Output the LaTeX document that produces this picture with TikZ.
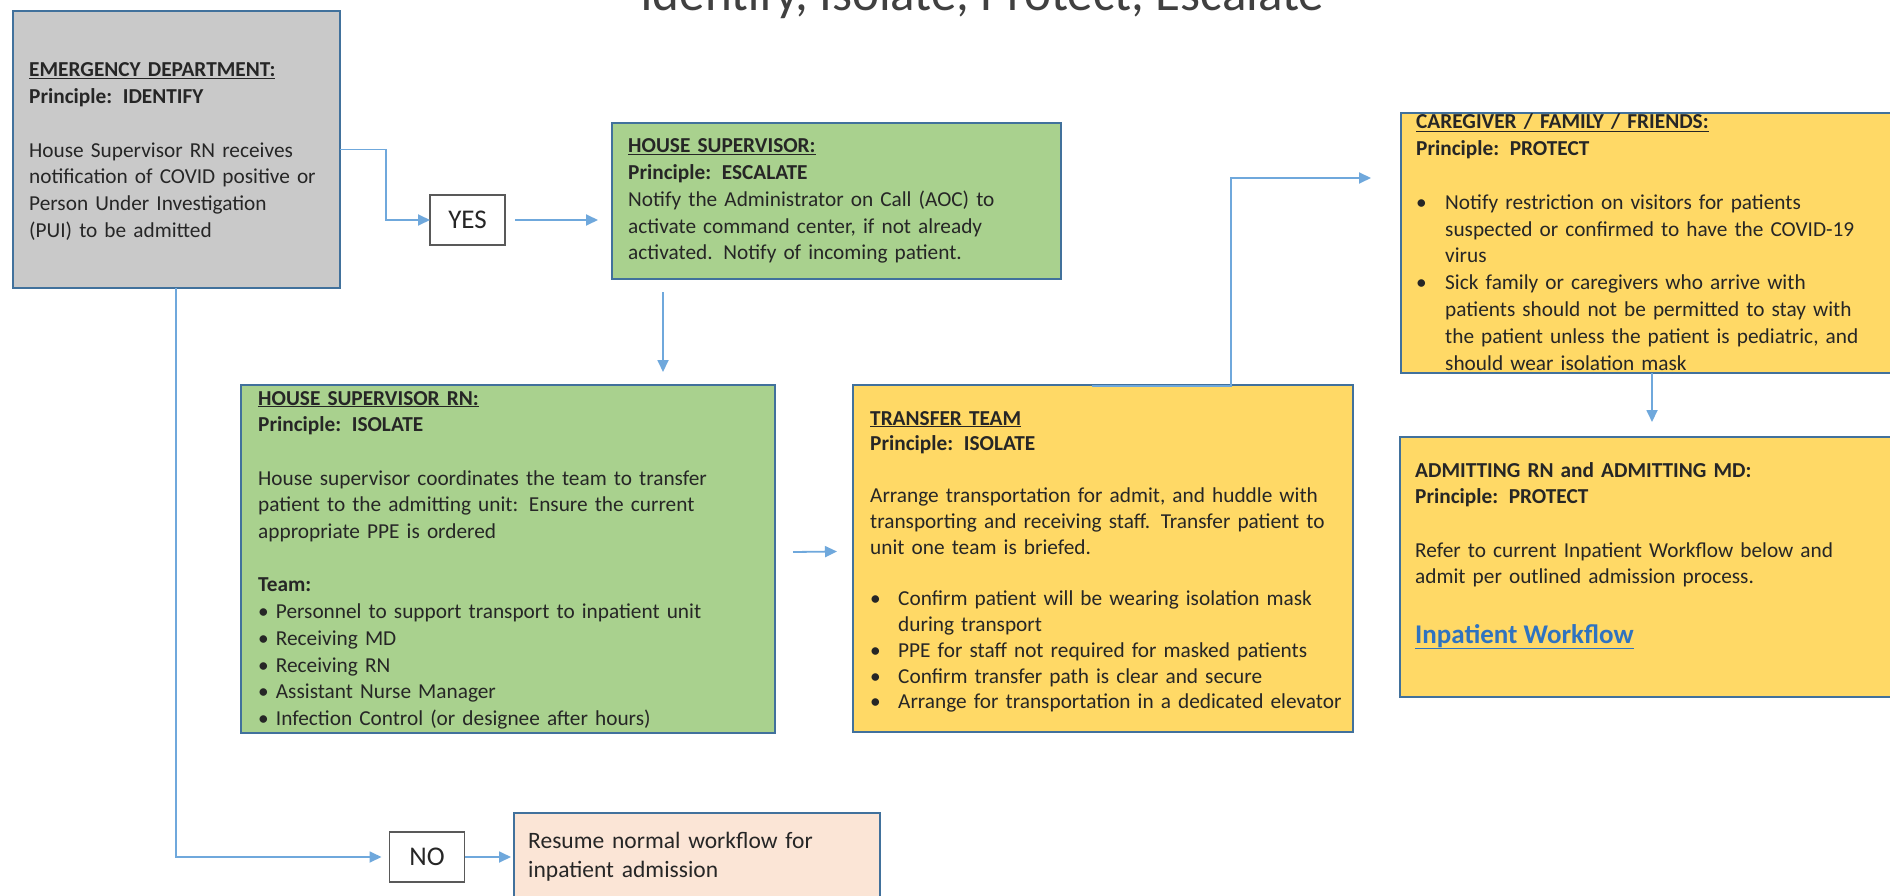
\documentclass[tikz,border=0pt]{standalone}
\usepackage{fontspec}
\setmainfont{Carlito}
\usetikzlibrary{arrows.meta,calc}
\definecolor{boxblue}{HTML}{41719C}
\definecolor{connblue}{HTML}{6FA8DC}
\definecolor{greenfill}{HTML}{A9D18E}
\definecolor{yellowfill}{HTML}{FFD966}
\definecolor{grayfill}{HTML}{C9C9C9}
\definecolor{peachfill}{HTML}{FBE5D6}
\definecolor{decgray}{HTML}{595959}
\definecolor{txtcol}{HTML}{262626}
\definecolor{titlegray}{HTML}{404040}
\definecolor{linkblue}{HTML}{2F73C0}
\tikzset{
  box/.style={draw=boxblue, line width=2.5pt, anchor=north west, inner sep=0pt, outer sep=0pt},
  txt/.style={anchor=base west, inner sep=0pt, text width=#1, align=left,
              font=\fontsize{21.3}{26.7}\selectfont, text=txtcol},
  conn/.style={draw=connblue, line width=1.8pt, -{Triangle[length=12pt,width=11pt]}},
  decision/.style={draw=decgray, line width=1.5pt, fill=white, minimum width=75pt,
                   minimum height=50pt, inner sep=0pt, outer sep=0pt,
                   font=\fontsize{27}{30}\selectfont, text=txtcol},
}
\begin{document}
\begin{tikzpicture}[x=1pt,y=-1pt]
\useasboundingbox (0,0) rectangle (1890,896);
\clip (0,0) rectangle (1890,896);
\fill[white] (0,0) rectangle (1890,896);

% title
\node[anchor=base, inner sep=0pt, font=\fontsize{51}{60}\selectfont, text=titlegray] (title) at (982,11) {Identify, Isolate, Protect, Escalate};

% boxes
\node[box, fill=grayfill, minimum width=327pt, minimum height=277pt] (ed) at (13,11) {};
\node[box, fill=greenfill, minimum width=449pt, minimum height=156pt] (hs) at (612,123) {};
\node[box, fill=greenfill, minimum width=534pt, minimum height=348pt] (hsrn) at (241,385) {};
\node[box, fill=yellowfill, minimum width=500pt, minimum height=347pt] (tt) at (853,385) {};
\node[box, fill=yellowfill, minimum width=560pt, minimum height=260pt] (cg) at (1401,113) {};
\node[box, fill=yellowfill, minimum width=560pt, minimum height=260pt] (adm) at (1400,437) {};
\node[box, fill=peachfill, minimum width=366pt, minimum height=130pt] (res) at (514,813) {};
\node[decision] (yes) at (467.5,220) {YES};
\node[decision] (no) at (427,857) {NO};

% texts
\node[txt=320pt] (edtext) at (29,77) {\underline{\textbf{EMERGENCY DEPARTMENT:}}\\
\textbf{Principle: IDENTIFY}\\ \mbox{}\\
House Supervisor RN receives\\
notification of COVID positive or\\
Person Under Investigation\\
(PUI) to be admitted};

\node[txt=440pt] (hstext) at (628,153) {\underline{\textbf{HOUSE SUPERVISOR:}}\\
\textbf{Principle: ESCALATE}\\
Notify the Administrator on Call (AOC) to\\
activate command center, if not already\\
activated. Notify of incoming patient.};

\node[txt=520pt] (hsrntext) at (258,405) {\underline{\textbf{HOUSE SUPERVISOR RN:}}\\
\textbf{Principle: ISOLATE}\\ \mbox{}\\
House supervisor coordinates the team to transfer\\
patient to the admitting unit: Ensure the current\\
appropriate PPE is ordered\\ \mbox{}\\
\textbf{Team:}\\
\textbullet{} Personnel to support transport to inpatient unit\\
\textbullet{} Receiving MD\\
\textbullet{} Receiving RN\\
\textbullet{} Assistant Nurse Manager\\
\textbullet{} Infection Control (or designee after hours)};

\node[txt=520pt, font=\fontsize{21.3}{25.8}\selectfont] (tttext) at (870,425) {\underline{\textbf{TRANSFER TEAM}}\\
\textbf{Principle: ISOLATE}\\ \mbox{}\\
Arrange transportation for admit, and huddle with\\
transporting and receiving staff. Transfer patient to\\
unit one team is briefed.\\ \mbox{}\\
\makebox[28pt][l]{\textbullet}Confirm patient will be wearing isolation mask\\
\hspace*{28pt}during transport\\
\makebox[28pt][l]{\textbullet}PPE for staff not required for masked patients\\
\makebox[28pt][l]{\textbullet}Confirm transfer path is clear and secure\\
\makebox[28pt][l]{\textbullet}Arrange for transportation in a dedicated elevator};

\node[txt=600pt, font=\fontsize{21.3}{26.8}\selectfont] (cgtext) at (1416,129) {\underline{\textbf{CAREGIVER / FAMILY / FRIENDS:}}\\
\textbf{Principle: PROTECT}\\ \mbox{}\\
\makebox[29pt][l]{\textbullet}Notify restriction on visitors for patients\\
\hspace*{29pt}suspected or confirmed to have the COVID-19\\
\hspace*{29pt}virus\\
\makebox[29pt][l]{\textbullet}Sick family or caregivers who arrive with\\
\hspace*{29pt}patients should not be permitted to stay with\\
\hspace*{29pt}the patient unless the patient is pediatric, and\\
\hspace*{29pt}should wear isolation mask};

\node[txt=470pt] (admtext) at (1415,477) {\textbf{ADMITTING RN and ADMITTING MD:}\\
\textbf{Principle: PROTECT}\\ \mbox{}\\
Refer to current Inpatient Workflow below and\\
admit per outlined admission process.};

\node[anchor=base west, inner sep=0pt, font=\fontsize{27}{30}\selectfont\bfseries, text=linkblue] (link) at (1415,643) {\underline{Inpatient Workflow}};

\node[txt=350pt, font=\fontsize{23.5}{29}\selectfont] (restext) at (528,848) {Resume normal workflow for\\
inpatient admission};

% connectors
\draw[conn] (ed.east) -- ++(46,0) |- (yes.west);
\draw[conn, shorten >=14pt] ($(yes.east)+(10,0)$) -- (hs.west |- yes.east);
\draw[conn] ($(hs.south west)+(51,13)$) -- ($(hsrn.north west)+(422,-13)$);
\draw[conn] ($(hsrn.east)+(18,-7)$) -- ($(tt.west)+(-16,-7)$);
\draw[conn] ($(tt.north west)+(239,1)$) -- ++(139,0) |- ($(cg.west)+(-30,-65)$);
\draw[conn] ($(cg.south west)+(251,0)$) -- ($(adm.north west)+(252,-15)$);
\draw[conn, shorten >=8pt] ($(ed.south west)+(163,0)$) |- (no.west);
\draw[conn, shorten >=3pt] (no.east) -- (res.west |- no.east);
\end{tikzpicture}
\end{document}
